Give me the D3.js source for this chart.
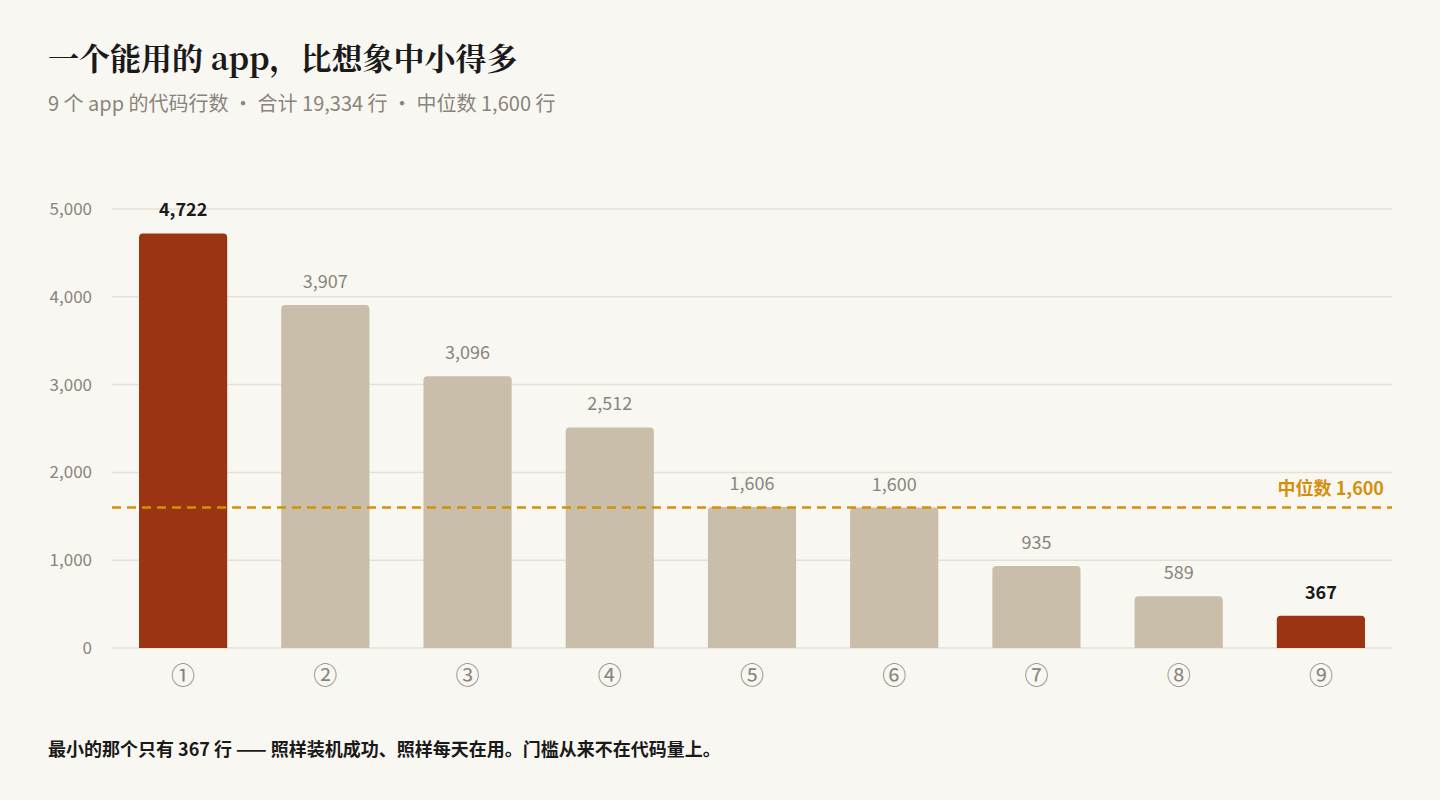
<!DOCTYPE html>
<html><head><meta charset="utf-8">
<script src="https://cdn.jsdelivr.net/npm/d3@7"></script>
<style>
body{margin:0;background:#f9f7f2;}
svg{display:block;font-family:"Noto Sans CJK SC","Noto Sans",sans-serif;}
</style></head><body>
<svg id="c" width="1440" height="800"></svg>
<script>
const categories = ['①','②','③','④','⑤','⑥','⑦','⑧','⑨'];
const values = [4722, 3907, 3096, 2512, 1606, 1600, 935, 589, 367];
const highlight = [true, false, false, false, false, false, false, false, true];
const yTicks = [0, 1000, 2000, 3000, 4000, 5000];
const median = 1600;

const svg = d3.select('#c');
const plotLeft = 112, plotRight = 1392, plotTop = 209, plotBottom = 648;

const x = d3.scaleBand().domain(categories).range([plotLeft, plotRight]).paddingInner(0.38).paddingOuter(0.19);
const y = d3.scaleLinear().domain([0, 5000]).range([plotBottom, plotTop]);
const fmt = d3.format(',');

svg.append('text').attr('x', 48).attr('y', 70)
  .attr('font-family', '"Noto Serif CJK SC","Noto Sans CJK SC",serif')
  .attr('font-weight', 700).attr('font-size', 31).attr('fill', '#1a1a1a')
  .text('一个能用的 app，比想象中小得多');
svg.append('text').attr('x', 48).attr('y', 111)
  .attr('font-size', 20).attr('fill', '#8a857c')
  .text('9 个 app 的代码行数 · 合计 19,334 行 · 中位数 1,600 行');

// grid
svg.append('g').selectAll('line').data(yTicks).join('line')
  .attr('x1', plotLeft).attr('x2', plotRight)
  .attr('y1', d => y(d)).attr('y2', d => y(d))
  .attr('stroke', '#e6e1d5').attr('stroke-width', 1.5);
svg.append('g').selectAll('text').data(yTicks).join('text')
  .attr('x', 92).attr('y', d => y(d)).attr('dy', '0.35em')
  .attr('text-anchor', 'end').attr('font-size', 17).attr('fill', '#8a857c')
  .text(d => fmt(d));

// bars
svg.append('g').selectAll('path').data(values).join('path')
  .attr('d', (d, i) => {
    const x0 = x(categories[i]), w = x.bandwidth(), y0 = y(d), r = 4;
    return `M${x0},${plotBottom}V${y0 + r}Q${x0},${y0} ${x0 + r},${y0}H${x0 + w - r}Q${x0 + w},${y0} ${x0 + w},${y0 + r}V${plotBottom}Z`;
  })
  .attr('fill', (d, i) => highlight[i] ? '#9a3412' : '#c9bea9');

svg.append('g').selectAll('text').data(values).join('text')
  .attr('x', (d, i) => x(categories[i]) + x.bandwidth() / 2)
  .attr('y', d => y(d) - 17)
  .attr('text-anchor', 'middle').attr('font-size', 18)
  .attr('font-weight', (d, i) => highlight[i] ? 700 : 400)
  .attr('fill', (d, i) => highlight[i] ? '#1a1a1a' : '#8a857c')
  .text(d => fmt(d));

// x labels
svg.append('g').selectAll('text').data(categories).join('text')
  .attr('x', d => x(d) + x.bandwidth() / 2).attr('y', 684)
  .attr('text-anchor', 'middle').attr('font-size', 24).attr('fill', '#8a857c')
  .text(d => d);

// median
svg.append('line').attr('x1', plotLeft).attr('x2', plotRight)
  .attr('y1', y(median)).attr('y2', y(median))
  .attr('stroke', '#d4900a').attr('stroke-width', 2.5).attr('stroke-dasharray', '9,6');
svg.append('text').attr('x', 1384).attr('y', y(median) - 13)
  .attr('text-anchor', 'end').attr('font-size', 18).attr('font-weight', 700).attr('fill', '#d4900a')
  .text('中位数 ' + fmt(median));

svg.append('text').attr('x', 48).attr('y', 756)
  .attr('font-size', 18).attr('font-weight', 700).attr('fill', '#1a1a1a')
  .text('最小的那个只有 367 行 —— 照样装机成功、照样每天在用。门槛从来不在代码量上。');
</script></body></html>
